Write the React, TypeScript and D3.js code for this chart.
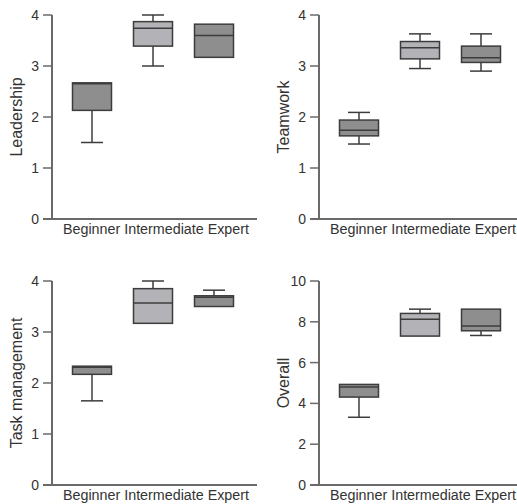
import React from "react";
import * as d3 from "d3";

// each row: [min, q1, median, q3, max]
const categories = ["Beginner", "Intermediate", "Expert"];

const leadership = [
  [1.5, 2.13, 2.65, 2.67, 2.67],
  [3.0, 3.39, 3.74, 3.87, 4.0],
  [3.17, 3.17, 3.6, 3.82, 3.82],
];
const teamwork = [
  [1.47, 1.63, 1.74, 1.94, 2.09],
  [2.95, 3.14, 3.36, 3.48, 3.63],
  [2.9, 3.07, 3.16, 3.39, 3.63],
];
const taskManagement = [
  [1.65, 2.17, 2.31, 2.33, 2.33],
  [3.17, 3.17, 3.57, 3.85, 4.0],
  [3.5, 3.5, 3.68, 3.71, 3.82],
];
const overall = [
  [3.32, 4.31, 4.8, 4.93, 4.93],
  [7.3, 7.3, 8.13, 8.41, 8.62],
  [7.33, 7.56, 7.8, 8.62, 8.62],
];

const fourTicks = [0, 1, 2, 3, 4];
const tenTicks = [0, 2, 4, 6, 8, 10];

const fills = ["#8e8e8e", "#b3b3b7", "#8e8e8e"];
const stroke = "#3c3c3c";
const axisColor = "#6a6a6a";
const textColor = "#333";
const font = "'Liberation Sans', Arial, sans-serif";

function Panel({ x, y, title, data, ticks, max }) {
  const yScale = d3.scaleLinear().domain([0, max]).range([204, 0]);
  const xBox = d3.scalePoint().domain(categories).range([40, 162]);
  const boxW = 39;
  const capW = 22;
  return (
    <g transform={`translate(${x},${y})`}>
      {data.map((d, i) => {
        const cx = xBox(categories[i]);
        const [mn, q1, med, q3, mx] = d;
        return (
          <g key={i}>
            <line x1={cx} x2={cx} y1={yScale(mn)} y2={yScale(q1)} stroke={stroke} strokeWidth={1.5} />
            <line x1={cx} x2={cx} y1={yScale(q3)} y2={yScale(mx)} stroke={stroke} strokeWidth={1.5} />
            {mn < q1 && (
              <line x1={cx - capW / 2} x2={cx + capW / 2} y1={yScale(mn)} y2={yScale(mn)} stroke={stroke} strokeWidth={1.5} />
            )}
            {mx > q3 && (
              <line x1={cx - capW / 2} x2={cx + capW / 2} y1={yScale(mx)} y2={yScale(mx)} stroke={stroke} strokeWidth={1.5} />
            )}
            <rect
              x={cx - boxW / 2}
              y={yScale(q3)}
              width={boxW}
              height={yScale(q1) - yScale(q3)}
              fill={fills[i]}
              stroke={stroke}
              strokeWidth={1.5}
            />
            <line x1={cx - boxW / 2} x2={cx + boxW / 2} y1={yScale(med)} y2={yScale(med)} stroke={stroke} strokeWidth={1.5} />
          </g>
        );
      })}
      <line x1={0} x2={0} y1={yScale(max)} y2={yScale(0)} stroke={axisColor} strokeWidth={2} />
      <line x1={-9} x2={205} y1={yScale(0)} y2={yScale(0)} stroke={axisColor} strokeWidth={2} />
      {ticks.map((t) => (
        <g key={t}>
          <line x1={-9} x2={0} y1={yScale(t)} y2={yScale(t)} stroke={axisColor} strokeWidth={1.5} />
          <text x={-13} y={yScale(t)} dy="0.36em" textAnchor="end" fontSize={14} fill={textColor}>
            {t}
          </text>
        </g>
      ))}
      <text
        x={11}
        y={yScale(0) + 15}
        fontSize={14}
        fill={textColor}
        textLength={186}
        lengthAdjust="spacingAndGlyphs"
      >
        {categories.join(" ")}
      </text>
      <text
        transform={`translate(-30,${yScale(max / 2)}) rotate(-90)`}
        textAnchor="middle"
        fontSize={16}
        fill={textColor}
      >
        {title}
      </text>
    </g>
  );
}

export default function App() {
  return (
    <svg
      width={517}
      height={504}
      style={{ position: "absolute", left: 0, top: 0, background: "#fff", fontFamily: font }}
    >
      <Panel x={52} y={15} title="Leadership" data={leadership} ticks={fourTicks} max={4} />
      <Panel x={319} y={15} title="Teamwork" data={teamwork} ticks={fourTicks} max={4} />
      <Panel x={52} y={281} title="Task management" data={taskManagement} ticks={fourTicks} max={4} />
      <Panel x={319} y={281} title="Overall" data={overall} ticks={tenTicks} max={10} />
    </svg>
  );
}
